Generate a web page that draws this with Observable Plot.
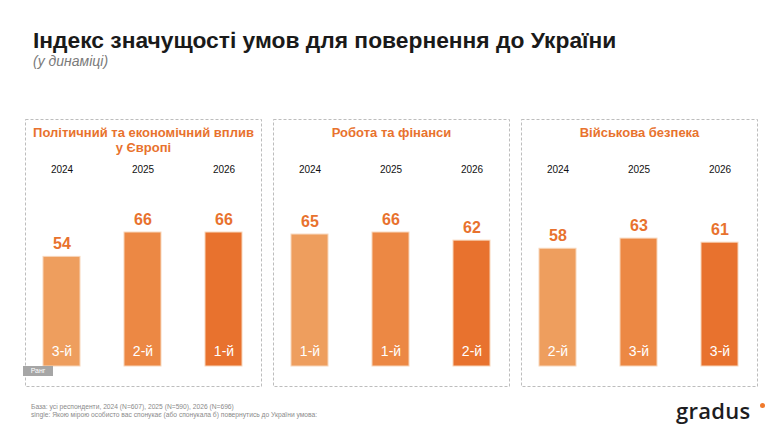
<!DOCTYPE html>
<html lang="uk">
<head>
<meta charset="utf-8">
<script src="https://cdn.jsdelivr.net/npm/d3@7"></script>
<script src="https://cdn.jsdelivr.net/npm/@observablehq/plot@0.6"></script>
<style>
  html, body { margin: 0; padding: 0; background: #fff; }
  #page { position: relative; width: 780px; height: 439px; overflow: hidden; font-family: "Liberation Sans", Arial, sans-serif; }
  #title { position: absolute; left: 33px; top: 29px; font-size: 22.8px; line-height: 23px; font-weight: bold; color: #1a1a1a; white-space: nowrap; }
  #subtitle { position: absolute; left: 33px; top: 54px; font-size: 14px; line-height: 14px; font-style: italic; color: #7a7a7a; white-space: nowrap; }
  #chart { position: absolute; left: 0; top: 100px; }
  #rank-tag { position: absolute; left: 23px; top: 366px; width: 30px; height: 10px; background: #a6a6a6; color: #fff; font-size: 7px; line-height: 10px; text-align: center; }
  #note { position: absolute; left: 31px; top: 403px; font-size: 6.7px; line-height: 8px; color: #8a8a8a; white-space: nowrap; }
  #logo { position: absolute; left: 676px; top: 399px; font-family: "Open Sans", sans-serif; font-size: 22px; line-height: 22px; font-weight: 600; color: #1d1d1f; letter-spacing: 0.3px; }
  #logo-dot { position: absolute; left: 760px; top: 403px; width: 5px; height: 5px; border-radius: 50%; background: #f07a2c; }
</style>
</head>
<body>
<div id="page">
  <div id="title">Індекс значущості умов для повернення до України</div>
  <div id="subtitle">(у динаміці)</div>
  <div id="chart"></div>
  <div id="rank-tag">Ранг</div>
  <div id="note">База: усі респонденти, 2024 (N=607), 2025 (N=590), 2026 (N=696)<br>single: Якою мірою особисто вас спонукає (або спонукала б) повернутись до України умова:</div>
  <div id="logo">gradus</div>
  <div id="logo-dot"></div>
</div>
<script>
// Condition groups (panels) and survey waves
const panelTitles = ["Політичний та економічний вплив\nу Європі", "Робота та фінанси", "Військова безпека"];
const years = ["2024", "2025", "2026"];

// Importance index by wave, per condition
const politicalValues = [54, 66, 66];
const workValues = [65, 66, 62];
const militaryValues = [58, 63, 61];

// Rank of the condition within each wave
const politicalRanks = ["3-й", "2-й", "1-й"];
const workRanks = ["1-й", "1-й", "2-й"];
const militaryRanks = ["2-й", "3-й", "3-й"];

const yearColors = ["#ee9e5e", "#ec8844", "#e8722e"];
const accent = "#e8722e";

const seriesValues = [politicalValues, workValues, militaryValues];
const seriesRanks = [politicalRanks, workRanks, militaryRanks];

const rows = panelTitles.flatMap((panel, p) =>
  years.map((year, i) => ({panel, year, value: seriesValues[p][i], rank: seriesRanks[p][i]}))
);
const panelRows = panelTitles.map((panel) => ({panel, title: panel}));

const chart = Plot.plot({
  width: 780,
  height: 300,
  marginTop: 19,
  marginBottom: 14,
  marginLeft: 24,
  marginRight: 21,
  style: {fontFamily: "'Liberation Sans', Arial, sans-serif", background: "transparent"},
  fx: {domain: panelTitles, paddingInner: 0.048, paddingOuter: 0, axis: null, label: null},
  x: {domain: years, paddingInner: 0.54, paddingOuter: 0.22, axis: null},
  y: {domain: [0, 100], range: [266, 63], axis: null},
  color: {domain: years, range: yearColors},
  marks: [
    Plot.frame({stroke: "#bdbdbd", strokeWidth: 1, strokeDasharray: "3,2"}),
    Plot.barY(rows, {fx: "panel", x: "year", y: "value", fill: "year", stroke: "#f8d6ba", strokeWidth: 1}),
    Plot.text(rows, {fx: "panel", x: "year", y: "value", text: (d) => String(d.value), dy: -13,
      fontSize: 16, fontWeight: "bold", fill: accent}),
    Plot.text(rows, {fx: "panel", x: "year", text: "rank", frameAnchor: "bottom", dy: -31,
      fontSize: 14, fill: "white"}),
    Plot.text(rows, {fx: "panel", x: "year", text: "year", frameAnchor: "top", dy: 46,
      fontSize: 10, fill: "#111"}),
    Plot.text(panelRows, {fx: "panel", text: "title", frameAnchor: "top", lineAnchor: "top", dy: 7,
      lineHeight: 1.13, fontSize: 13, fontWeight: "bold", fill: accent})
  ]
});

document.getElementById("chart").appendChild(chart);
</script>
</body>
</html>
